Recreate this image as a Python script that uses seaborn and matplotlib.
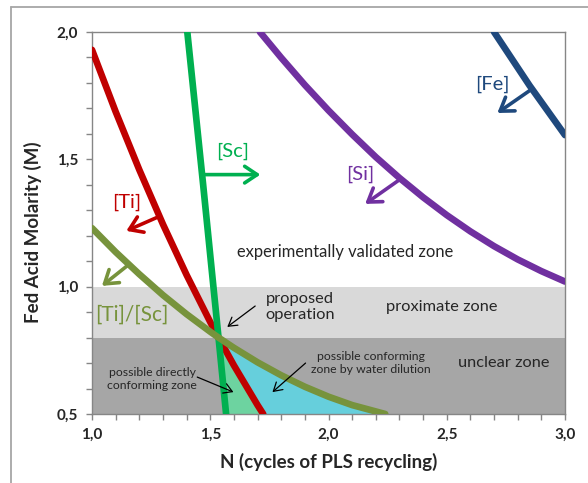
import matplotlib
matplotlib.use('agg')

import numpy as np
import pandas as pd
import matplotlib.pyplot as plt
import seaborn as sns
from matplotlib.lines import Line2D
from matplotlib.ticker import MultipleLocator

# curve points: N (cycles) vs fed acid molarity (M)
ti_n = [1.0, 1.1, 1.2, 1.3, 1.4, 1.5, 1.535, 1.6, 1.7, 1.724]
ti_m = [1.93, 1.687, 1.459, 1.245, 1.046, 0.861, 0.80, 0.691, 0.535, 0.50]
sc_n = [1.403, 1.47, 1.535, 1.567]
sc_m = [2.0, 1.40, 0.80, 0.50]
si_n = [1.71, 1.8, 1.9, 2.0, 2.1, 2.2, 2.3, 2.4, 2.5, 2.6, 2.7, 2.8, 2.9, 3.0]
si_m = [2.0, 1.899, 1.792, 1.692, 1.598, 1.509, 1.427, 1.351, 1.281, 1.217,
        1.159, 1.107, 1.061, 1.02]
fe_n = [2.70, 2.85, 3.0]
fe_m = [2.0, 1.79, 1.595]
tisc_n = [1.0, 1.1, 1.2, 1.3, 1.4, 1.5, 1.535, 1.6, 1.7, 1.8, 1.9, 2.0, 2.1, 2.24]
tisc_m = [1.23, 1.136, 1.049, 0.967, 0.892, 0.823, 0.80, 0.760, 0.703, 0.652,
          0.607, 0.568, 0.535, 0.50]

x_ticks = [1.0, 1.5, 2.0, 2.5, 3.0]
x_labels = ['1,0', '1,5', '2,0', '2,5', '3,0']
y_ticks = [0.5, 1.0, 1.5, 2.0]
y_labels = ['0,5', '1,0', '1,5', '2,0']

# horizontal zones (M)
unclear_zone = (0.5, 0.8)
proximate_zone = (0.8, 1.0)

colors = {'[Ti]': '#C00000', '[Sc]': '#00B050', '[Si]': '#7030A0',
          '[Fe]': '#1F497D', '[Ti]/[Sc]': '#77933C'}

curves = pd.concat([
    pd.DataFrame({'N': ti_n, 'M': ti_m, 'ion': '[Ti]'}),
    pd.DataFrame({'N': sc_n, 'M': sc_m, 'ion': '[Sc]'}),
    pd.DataFrame({'N': si_n, 'M': si_m, 'ion': '[Si]'}),
    pd.DataFrame({'N': fe_n, 'M': fe_m, 'ion': '[Fe]'}),
    pd.DataFrame({'N': tisc_n, 'M': tisc_m, 'ion': '[Ti]/[Sc]'}),
], ignore_index=True)

sns.set_theme(style='white')
plt.rcParams['font.family'] = ['Lato', 'DejaVu Sans']

fig = plt.figure(figsize=(5.88, 4.83), dpi=100)
ax = fig.add_axes([92/588, 69/483, 473/588, 382/483])

# outer chart frame (only left and top edges are visible in the crop)
fig.add_artist(Line2D([10.5/588, 10.5/588], [0, 1 - 7/483], transform=fig.transFigure,
                      color='#a6a6a6', lw=1.3))
fig.add_artist(Line2D([10.5/588, 1], [1 - 7/483, 1 - 7/483], transform=fig.transFigure,
                      color='#a6a6a6', lw=1.3))

ax.axhspan(*unclear_zone, color='#A6A6A6', lw=0, zorder=0)
ax.axhspan(*proximate_zone, color='#D9D9D9', lw=0, zorder=0)

# conforming zones below the common intersection
ti_low = [(n, m) for n, m in zip(ti_n, ti_m) if m <= 0.8]
sc_low = [(n, m) for n, m in zip(sc_n, sc_m) if m <= 0.8]
tisc_low = [(n, m) for n, m in zip(tisc_n, tisc_m) if m <= 0.8]
green_poly = np.array(ti_low + sc_low[::-1])
cyan_poly = np.array(tisc_low + ti_low[::-1])
ax.fill(green_poly[:, 0], green_poly[:, 1], color='#6DD3A0', lw=0, zorder=1)
ax.fill(cyan_poly[:, 0], cyan_poly[:, 1], color='#66CFDC', lw=0, zorder=1)

sns.lineplot(data=curves, x='N', y='M', hue='ion', palette=colors, lw=4.8,
             legend=False, sort=False, estimator=None, ax=ax, zorder=3)
for ln in ax.lines:
    ln.set_solid_capstyle('round')
    ln.set_solid_joinstyle('round')

# labelled arrows on each constraint line
def tag(text, xy_text, start, end, c, fs=14.5):
    ax.annotate('', xy=end, xytext=start,
                arrowprops=dict(arrowstyle='->,head_length=0.45,head_width=0.3',
                                color=c, lw=2.6, shrinkA=0, shrinkB=0, mutation_scale=20),
                zorder=4)
    ax.text(*xy_text, text, color=c, fontsize=fs, ha='center', va='center', zorder=4)

tag('[Ti]', (1.148, 1.33), (1.285, 1.276), (1.145, 1.219), colors['[Ti]'])
tag('[Sc]', (1.593, 1.533), (1.465, 1.44), (1.712, 1.44), colors['[Sc]'])
tag('[Si]', (2.135, 1.44), (2.305, 1.423), (2.155, 1.325), colors['[Si]'])
tag('[Fe]', (2.695, 1.796), (2.86, 1.776), (2.714, 1.682), colors['[Fe]'])
tag('[Ti]/[Sc]', (1.168, 0.889), (1.153, 1.085), (1.042, 1.003), colors['[Ti]/[Sc]'],
    fs=15)

txt = '#262626'
ax.text(2.07, 1.136, 'experimentally validated zone', fontsize=11.9, color=txt,
        ha='center', va='center')
ax.text(2.48, 0.92, 'proximate zone', fontsize=11.8, color=txt, ha='center', va='center')
ax.text(2.74, 0.70, 'unclear zone', fontsize=11.8, color=txt, ha='center', va='center')
ax.text(1.88, 0.92, 'proposed\noperation', fontsize=11.8, color=txt, ha='center',
        va='center', linespacing=1.1)
ax.text(1.254, 0.637, 'possible directly\nconforming zone', fontsize=8.8, color=txt,
        ha='center', va='center', linespacing=1.25)
ax.text(2.18, 0.70, 'possible conforming\nzone by water dilution', fontsize=8.8,
        color=txt, ha='center', va='center', linespacing=1.25)

black_arrow = dict(arrowstyle='->,head_length=0.5,head_width=0.3', color='black',
                   lw=0.9, shrinkA=0, shrinkB=0, mutation_scale=12)
ax.annotate('', xy=(1.572, 0.842), xytext=(1.69, 0.924), arrowprops=black_arrow, zorder=5)
ax.annotate('', xy=(1.598, 0.586), xytext=(1.445, 0.645), arrowprops=black_arrow, zorder=5)
ax.annotate('', xy=(1.763, 0.586), xytext=(1.903, 0.70), arrowprops=black_arrow, zorder=5)

ax.set_xlim(1.0, 3.0)
ax.set_ylim(0.5, 2.0)
ax.set_xticks(x_ticks)
ax.set_xticklabels(x_labels)
ax.set_yticks(y_ticks)
ax.set_yticklabels(y_labels)
ax.xaxis.set_minor_locator(MultipleLocator(0.1))
ax.yaxis.set_minor_locator(MultipleLocator(0.1))
ax.tick_params(which='both', direction='out', length=4, width=1, color='#868686',
               bottom=True, left=True)
ax.tick_params(which='major', labelsize=11, labelcolor='#262626', pad=6)
for lab in ax.get_xticklabels() + ax.get_yticklabels():
    lab.set_fontweight('bold')
for s in ax.spines.values():
    s.set_color('#868686')
    s.set_linewidth(1)

ax.set_xlabel('N (cycles of PLS recycling)', fontsize=13.5, fontweight='bold',
              color='#262626', labelpad=8)
ax.set_ylabel('Fed Acid Molarity (M)', fontsize=13.5, fontweight='bold',
              color='#262626')
ax.yaxis.set_label_coords(-0.105, 0.475)

fig.savefig('out.png', dpi=100)
